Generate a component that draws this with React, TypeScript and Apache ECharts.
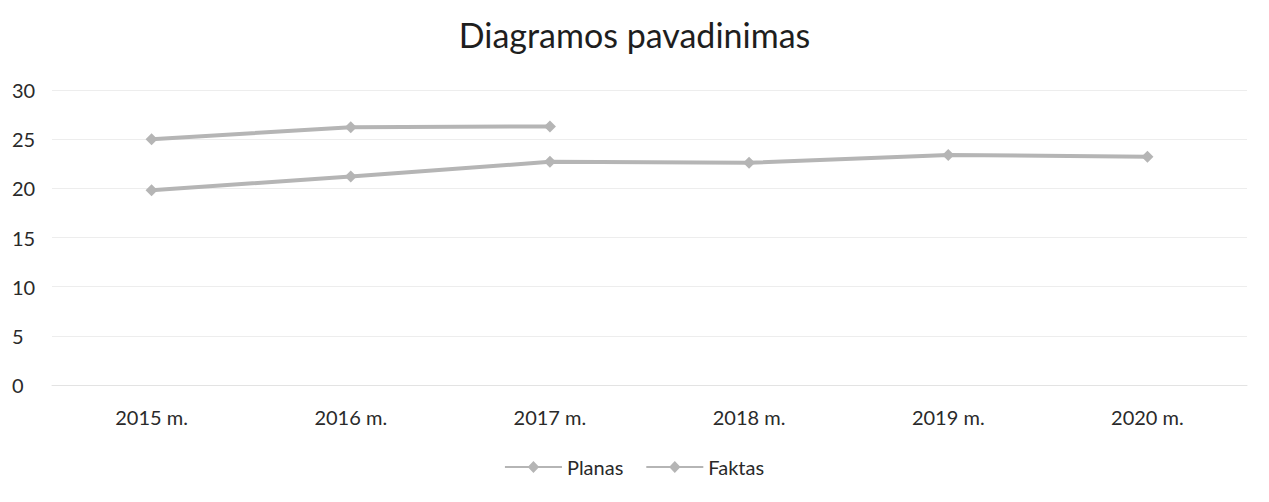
import React, { useEffect, useRef } from "react";
import * as echarts from "echarts";

const categories = ["2015 m.", "2016 m.", "2017 m.", "2018 m.", "2019 m.", "2020 m."];
const planas = [19.8, 21.2, 22.7, 22.6, 23.4, 23.2];
const faktas = [25.0, 26.2, 26.3, null, null, null];
const yTicks = { min: 0, max: 30, interval: 5 };

const FONT = "Lato";
const LINE = "#b5b5b5";
const ICON = "path://M0,6.2 L20,6.2 L24,2 L28,6.2 L48,6.2 L48,7.8 L28,7.8 L24,12 L20,7.8 L0,7.8 Z";

export default function App() {
  const ref = useRef<HTMLDivElement>(null);
  useEffect(() => {
    const chart = echarts.init(ref.current!, null, { renderer: "svg" });
    const mk = (name: string, data: (number | null)[]) => ({
      name,
      type: "line",
      data,
      symbol: "diamond",
      symbolSize: 12,
      showSymbol: true,
      lineStyle: { color: LINE, width: 4 },
      itemStyle: { color: LINE },
      connectNulls: false,
    });
    chart.setOption({
      animation: false,
      backgroundColor: "#ffffff",
      textStyle: { fontFamily: FONT },
      title: {
        text: "Diagramos pavadinimas",
        left: "center",
        top: 12,
        textStyle: { fontFamily: FONT, fontSize: 34, fontWeight: "normal", color: "#1e1e1e" },
      },
      legend: {
        data: [
          { name: "Planas", icon: ICON },
          { name: "Faktas", icon: ICON },
        ],
        top: 452,
        left: "center",
        itemWidth: 57,
        itemHeight: 14,
        itemGap: 23,
        textStyle: { fontFamily: FONT, fontSize: 20, color: "#2a2a2a" },
      },
      grid: { left: 52, right: 22, top: 90, bottom: 117 },
      xAxis: {
        type: "category",
        data: categories,
        boundaryGap: true,
        axisLine: { lineStyle: { color: "#e3e3e3" } },
        axisTick: { show: false },
        axisLabel: { fontFamily: FONT, fontSize: 20, color: "#2a2a2a", margin: 22 },
      },
      yAxis: {
        type: "value",
        min: yTicks.min,
        max: yTicks.max,
        interval: yTicks.interval,
        axisLine: { show: false },
        axisTick: { show: false },
        splitLine: { lineStyle: { color: "#ededed" } },
        axisLabel: { fontFamily: FONT, fontSize: 20, color: "#2a2a2a", margin: 40, align: "left" },
      },
      series: [mk("Planas", planas), mk("Faktas", faktas)],
    });
    return () => chart.dispose();
  }, []);
  return <div ref={ref} style={{ position: "absolute", left: 0, top: 0, width: 1269, height: 502 }} />;
}
